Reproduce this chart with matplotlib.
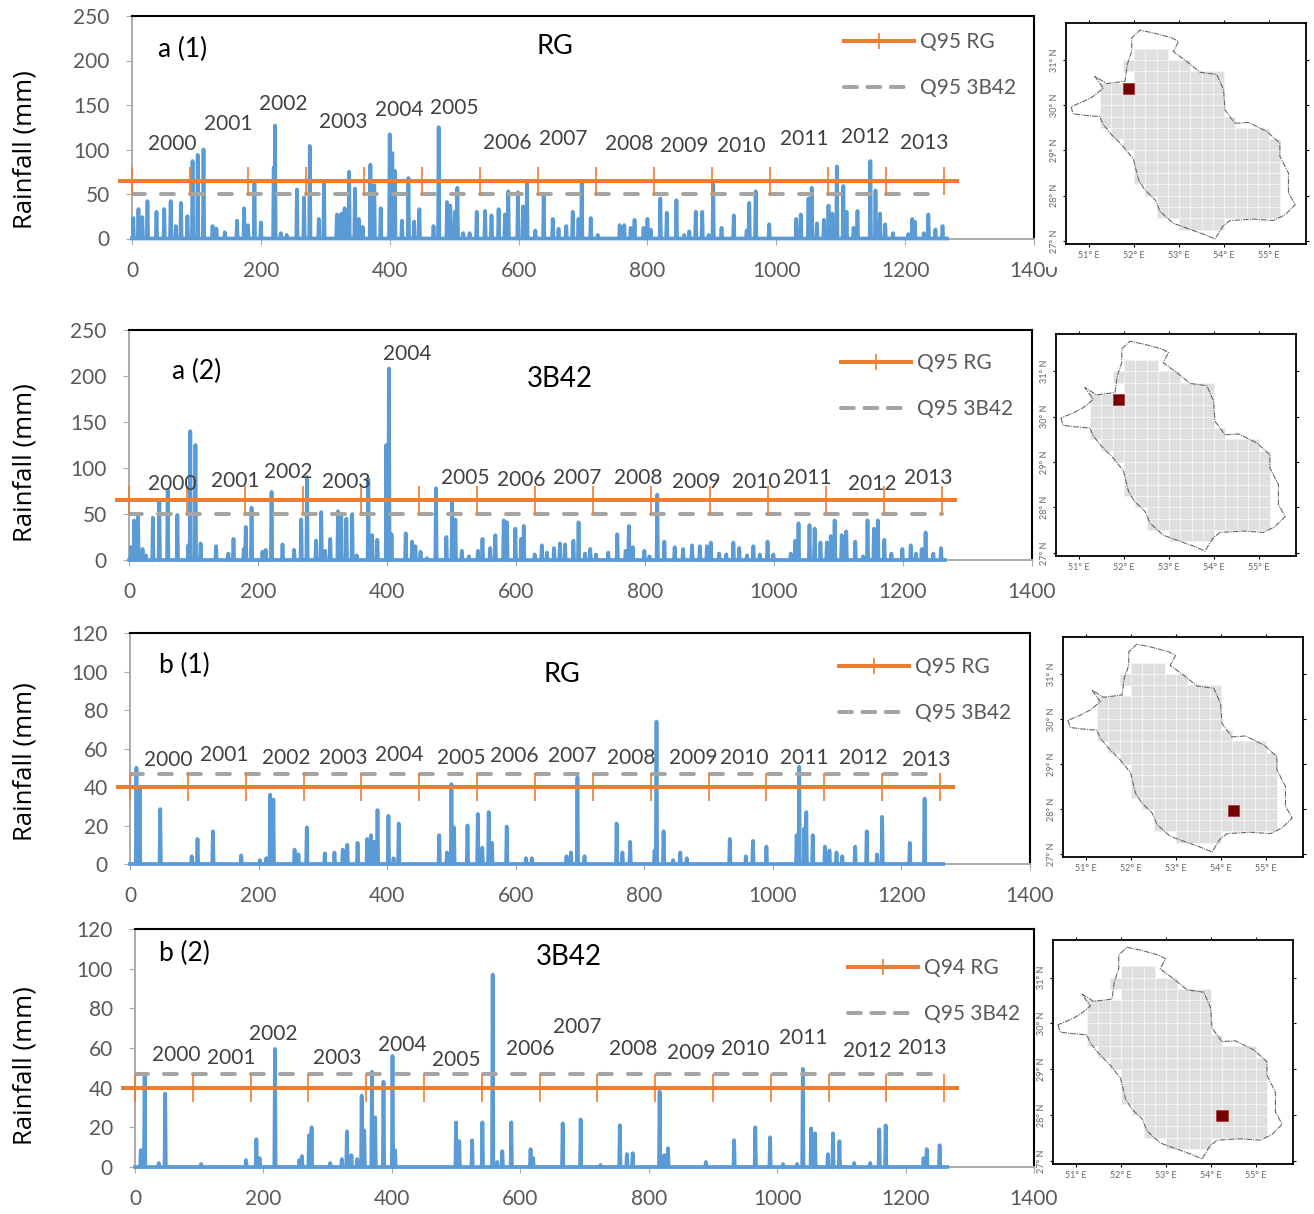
import numpy as np
from matplotlib import pyplot as plt
from matplotlib.lines import Line2D
from matplotlib.patches import Rectangle
from matplotlib.transforms import Affine2D

W, H = 1314, 1214

# peaks of each rainfall series (day index, mm), all other days are dry
a1_days = [2, 10, 16, 24, 38, 50, 60, 68, 76, 86, 94, 102, 111, 125, 131, 144, 163, 174, 180, 190, 200, 220, 222, 231,
           240, 256, 267, 276, 290, 298, 318, 325, 330, 337, 346, 352, 358, 370, 376, 386, 400, 404, 408, 419, 429,
           438, 446, 468, 476, 489, 494, 501, 505, 514, 524, 535, 548, 558, 569, 579, 584, 599, 607, 613, 626, 639,
           653, 662, 674, 684, 693, 698, 712, 723, 757, 764, 774, 780, 794, 800, 805, 820, 830, 845, 857, 865, 875,
           885, 895, 902, 915, 934, 954, 958, 968, 989, 1031, 1038, 1050, 1055, 1063, 1074, 1081, 1087, 1094, 1104,
           1109, 1120, 1126, 1146, 1154, 1161, 1169, 1181, 1205, 1211, 1215, 1229, 1236, 1247, 1258]
a1_rain = [23, 33, 24, 42, 30, 33, 42, 14, 40, 25, 87, 94, 100, 14, 11, 7, 20, 34, 15, 62, 18, 80, 127, 6,
           4, 55, 46, 104, 22, 62, 27, 28, 34, 75, 56, 22, 13, 83, 60, 34, 117, 96, 76, 20, 68,
           19, 33, 14, 125, 41, 37, 30, 57, 6, 6, 30, 31, 26, 33, 27, 53, 52, 36, 63, 9, 50,
           22, 11, 14, 30, 22, 65, 23, 4, 15, 15, 12, 21, 12, 22, 10, 45, 29, 43, 4, 8, 30,
           30, 4, 63, 12, 26, 9, 40, 53, 16, 22, 27, 45, 57, 17, 21, 37, 28, 81, 59,
           30, 12, 31, 87, 54, 28, 16, 6, 5, 22, 19, 6, 27, 10, 14]

a2_days = [3, 8, 14, 21, 26, 37, 47, 60, 75, 92, 95, 103, 111, 135, 154, 162, 178, 181, 190, 207, 212, 221, 238, 256,
           267, 276, 290, 298, 304, 312, 324, 329, 337, 346, 353, 371, 377, 385, 399, 403, 407, 429, 439, 444, 452,
           462, 476, 492, 501, 506, 516, 527, 541, 548, 560, 568, 581, 586, 599, 608, 612, 629, 640, 648, 659, 668,
           676, 689, 697, 707, 715, 724, 743, 757, 770, 775, 781, 799, 807, 819, 830, 846, 859, 873, 885, 896, 902,
           915, 926, 937, 946, 958, 968, 978, 990, 999, 1026, 1033, 1038, 1055, 1063, 1072, 1082, 1088, 1094, 1105,
           1112, 1126, 1138, 1145, 1155, 1161, 1171, 1182, 1199, 1212, 1220, 1229, 1235, 1247, 1259]
a2_rain = [14, 43, 47, 12, 5, 46, 64, 76, 49, 16, 140, 125, 18, 15, 7, 23, 12, 36, 57, 9, 11, 74, 17, 11,
           44, 90, 21, 52, 10, 23, 53, 50, 45, 50, 5, 88, 27, 22, 125, 208, 28, 29, 20, 15, 9,
           2, 78, 25, 64, 44, 10, 4, 10, 23, 13, 27, 43, 41, 34, 23, 37, 6, 16, 8, 13, 18,
           17, 21, 41, 7, 12, 6, 8, 28, 10, 37, 14, 10, 4, 71, 20, 14, 12, 16, 15, 15, 19,
           7, 6, 19, 13, 5, 15, 6, 20, 6, 7, 21, 40, 38, 34, 19, 19, 26, 43, 27,
           31, 20, 4, 43, 34, 43, 22, 7, 12, 16, 7, 12, 30, 7, 13]

b1_days = [10, 15, 47, 96, 105, 129, 173, 202, 212, 218, 223, 256, 262, 275, 303, 318, 331, 338, 354, 369, 375, 380,
           385, 402, 410, 418, 481, 493, 500, 504, 525, 541, 548, 558, 563, 586, 616, 625, 679, 686, 696, 707, 757,
           766, 778, 816, 819, 830, 845, 856, 866, 933, 958, 969, 990, 1037, 1041, 1049, 1052, 1062, 1081, 1088,
           1099, 1108, 1128, 1146, 1162, 1170, 1213, 1236]
b1_rain = [50, 40, 28.5, 4, 13, 17, 4.5, 2, 3, 36, 33.5, 7.5, 5, 19, 5.5, 6, 7.5, 10, 11, 13, 15, 11.5,
           28, 25, 3, 21, 15, 6, 41.5, 19, 20, 26, 8.5, 27, 11, 19.5, 3, 3, 4, 6, 45, 4, 21,
           6, 11.5, 7, 74, 17, 2, 6, 3, 13, 4, 12, 9, 15, 50.5, 18.5, 27, 15, 9, 7,
           6, 4, 9, 17, 5, 24.5, 11, 34]

b2_days = [9, 15, 37, 47, 103, 173, 189, 194, 218, 256, 260, 271, 275, 304, 322, 330, 337, 346, 353, 357, 369, 374,
           387, 401, 405, 500, 505, 525, 541, 557, 564, 572, 586, 616, 620, 666, 694, 725, 755, 766, 775, 817, 824,
           830, 889, 933, 966, 989, 1009, 1031, 1040, 1053, 1059, 1079, 1087, 1097, 1120, 1145, 1159, 1169, 1228,
           1233, 1253]
b2_rain = [8.5, 47, 2, 37, 1.5, 3.5, 14, 4.5, 59.5, 3.5, 5.5, 16, 20, 2, 4, 18, 6, 4, 36, 18.5, 48, 25,
           43, 56, 8.5, 22.5, 13, 13.5, 22.5, 97, 2.5, 8, 22.5, 9, 4.5, 22, 24, 1, 21, 6.5, 7, 38, 6,
           9.5, 2.5, 13.5, 20, 15, 1.5, 1.5, 49.5, 19.5, 17, 6.5, 17, 13, 2, 2, 19, 21, 4.5,
           9, 11]

years = ['2000', '2001', '2002', '2003', '2004', '2005', '2006', '2007', '2008', '2009', '2010', '2011', '2012', '2013']

# outline of the basin and its 0.25 deg grid
outline_lon = [50.60, 50.65, 50.87, 51.24, 51.32, 51.50, 51.76, 51.99, 52.10, 52.24, 52.47, 52.58, 52.87, 53.17, 53.54,
               53.80, 53.97, 54.13, 54.65, 55.10, 55.36, 55.58, 55.43, 55.43, 55.24, 55.24, 54.95, 54.54, 54.24, 54.02,
               53.99, 53.84, 53.47, 53.17, 52.87, 52.99, 52.84, 52.43, 52.13, 51.95, 51.95, 51.85, 51.80, 51.39, 51.13,
               51.32, 51.10, 50.87, 50.60]
outline_lat = [29.97, 29.81, 29.78, 29.75, 29.57, 29.35, 29.09, 28.80, 28.35, 28.13, 27.91, 27.65, 27.39, 27.28, 27.15,
               27.04, 27.32, 27.45, 27.48, 27.45, 27.58, 27.80, 28.06, 28.50, 28.87, 29.16, 29.42, 29.62, 29.60, 29.90,
               30.34, 30.68, 30.73, 30.97, 31.19, 31.41, 31.49, 31.60, 31.66, 31.49, 31.19, 30.90, 30.53, 30.48, 30.64,
               30.38, 30.20, 30.08, 29.97]
row_top = [31.25, 31.0, 30.75, 30.5, 30.25, 30.0, 29.75, 29.5, 29.25, 29.0, 28.75, 28.5, 28.25, 28.0, 27.75, 27.5]
row_west = [52.0, 51.75, 52.0, 51.25, 51.25, 51.25, 51.25, 51.5, 51.75, 52.0, 52.0, 52.0, 52.25, 52.5, 52.5, 53.0]
row_east = [52.75, 53.25, 54.0, 54.0, 54.0, 54.0, 54.25, 55.0, 55.25, 55.25, 55.25, 55.25, 55.25, 55.25, 55.25, 54.0]

plt.rcParams['font.family'] = ['Lato', 'DejaVu Sans']
fig = plt.figure(figsize=(W / 100, H / 100), dpi=100)
px = Affine2D().scale(1 / W, -1 / H).translate(0, 1) + fig.transFigure


def box(l, t, r, b):
    return [l / W, 1 - b / H, (r - l) / W, (b - t) / H]


def draw_panel(frame, days, rain, ymax, ystep, q_rg, q_3b, tag, tag_xy, name, name_xy, year_xy, leg_xy, leg_name,
               ylabel_y):
    ax = fig.add_axes(box(*frame))
    daily = np.zeros(1266)
    daily[days] = rain
    ax.plot(np.arange(1266), daily, color='#5B9BD5', lw=2.7, solid_joinstyle='round', clip_on=False, zorder=3)
    ax.plot([0, 1260], [q_3b, q_3b], color='#A5A5A5', lw=2.9, ls=(0, (3.2, 4)), dash_capstyle='round', zorder=4)
    ax.plot([-19, 1280], [q_rg, q_rg], color='#ED7D31', lw=2.9, clip_on=False, zorder=5)
    ax.plot(np.arange(0, 1261, 90), [q_rg] * 15, ls='', marker='|', ms=19.5, mew=1.2, color='#ED7D31',
            clip_on=False, zorder=5)
    ax.set_xlim(0, 1400)
    ax.set_ylim(0, ymax)
    ax.set_xticks(range(0, 1401, 200))
    ax.set_yticks(np.arange(0, ymax + 1, ystep))
    ax.tick_params(axis='x', length=4, color='#ABABAB', labelcolor='#595959', labelsize=15, pad=12)
    ax.tick_params(axis='y', length=4, color='#ABABAB', labelcolor='#595959', labelsize=15, pad=12)
    for side in ['left', 'bottom']:
        ax.spines[side].set_color('#ABABAB')
        ax.spines[side].set_linewidth(1.4)
    for side in ['top', 'right']:
        ax.spines[side].set_color('black')
        ax.spines[side].set_linewidth(1.5)
    ax.set_ylabel('Rainfall (mm)', fontsize=18.5, family='Open Sans')
    ax.yaxis.set_label_coords(25, ylabel_y, transform=px)
    ax.yaxis.label.set_verticalalignment('center')

    for label, (x, y) in zip(years, year_xy):
        fig.text(x / W, 1 - (y + 1) / H, label, fontsize=15, color='#404040', ha='center', va='center')
    fig.text(tag_xy[0] / W, 1 - (tag_xy[1] + 2) / H, tag, fontsize=19, color='black', ha='center', va='center')
    name_size = 20 if name == '3B42' else 19.5
    fig.text(name_xy[0] / W, 1 - (name_xy[1] + 2) / H, name, fontsize=name_size, color='black', ha='center', va='center')

    handles = [Line2D([], [], color='#ED7D31', lw=2.9, marker='|', ms=12, mew=1.2),
               Line2D([], [], color='#A5A5A5', lw=2.9, ls=(0, (3.2, 2.6)), dash_capstyle='round')]
    ax.legend(handles, leg_name, loc='upper left', bbox_to_anchor=leg_xy, bbox_transform=px, frameon=False,
              fontsize=15, labelcolor='#595959', handlelength=3.35, handletextpad=0.3, labelspacing=1.27,
              borderpad=0, borderaxespad=0, numpoints=1)
    return ax


def draw_map(frame, cell_lon, cell_lat):
    ax = fig.add_axes(box(*frame), zorder=6)
    for top, west, east in zip(row_top, row_west, row_east):
        for lon in np.arange(west, east, 0.25):
            ax.add_patch(Rectangle((lon, top - 0.25), 0.25, 0.25, fc='#DFDFDF', ec='#F4F4F4', lw=0.6))
    ax.plot(outline_lon, outline_lat, color='#666666', lw=0.8, ls=(0, (5, 1, 1, 1)))
    ax.add_patch(Rectangle((cell_lon, cell_lat), 0.25, 0.25, fc='#750000', ec='#A33', lw=0.5, zorder=4))
    ax.set_xlim(50.49, 55.82)
    ax.set_ylim(26.93, 31.82)
    ax.set_xticks([51, 52, 53, 54, 55])
    ax.set_xticklabels([f'{v}\u00b0 E' for v in [51, 52, 53, 54, 55]])
    ax.set_yticks([27, 28, 29, 30, 31])
    ax.set_yticklabels([f'{v}\u00b0 N' for v in [27, 28, 29, 30, 31]], rotation=90, va='center')
    ax.tick_params(length=2, width=0.8, top=True, right=True, labelsize=6.5, labelcolor='#666666', pad=3)
    for side in ax.spines.values():
        side.set_linewidth(1.3)


a1_years = [(172, 143), (228, 123), (283, 103), (343, 121), (399, 109), (454, 107), (507, 142), (563, 138),
            (629, 143), (684, 145), (741, 145), (804, 138), (865, 136), (924, 142)]
a2_years = [(172, 483), (235, 480), (288, 471), (346, 481), (407, 353), (465, 477), (521, 479), (577, 477),
            (638, 477), (696, 481), (756, 481), (807, 477), (872, 483), (928, 477)]
b1_years = [(168, 759), (224, 754), (286, 757), (343, 757), (399, 754), (461, 757), (514, 755), (572, 755),
            (631, 757), (693, 757), (744, 757), (804, 757), (863, 757), (926, 759)]
b2_years = [(176, 1054), (231, 1057), (273, 1033), (337, 1057), (402, 1044), (456, 1059), (530, 1048), (577, 1026),
            (633, 1048), (691, 1052), (745, 1048), (803, 1037), (867, 1050), (922, 1047)]

draw_panel((132, 16, 1034, 238.5), a1_days, a1_rain, 250, 50, 65, 50, 'a (1)', (183, 47), 'RG', (555, 45), a1_years,
           (844, 32), ['Q95 RG', 'Q95 3B42'], 150)
draw_panel((129, 330, 1032, 560), a2_days, a2_rain, 250, 50, 65, 50, 'a (2)', (197, 369), '3B42', (560, 377), a2_years,
           (841, 353), ['Q95 RG', 'Q95 3B42'], 463)
draw_panel((130, 633, 1030, 864), b1_days, b1_rain, 120, 20, 40, 47, 'b (1)', (184, 663), 'RG', (562, 673), b1_years,
           (839, 657), ['Q95 RG', 'Q95 3B42'], 762)
draw_panel((135, 929, 1034, 1167), b2_days, b2_rain, 120, 20, 40, 47, 'b (2)', (184, 951), '3B42', (569, 955), b2_years,
           (848, 958), ['Q94 RG', 'Q95 3B42'], 1066)

# the first map picture hides the top of the last x label
fig.add_artist(Rectangle((1044 / W, 1 - 267 / H), 270 / W, 267 / H, transform=fig.transFigure, fc='white', ec='none',
                         zorder=4))

draw_map((1066, 23, 1306, 244), 51.75, 30.25)
draw_map((1056, 334, 1296, 556), 51.75, 30.25)
draw_map((1063, 637, 1303, 857), 54.15, 27.84)
draw_map((1053, 940, 1293, 1164), 54.12, 27.86)

fig.savefig('out.png', dpi=100)
